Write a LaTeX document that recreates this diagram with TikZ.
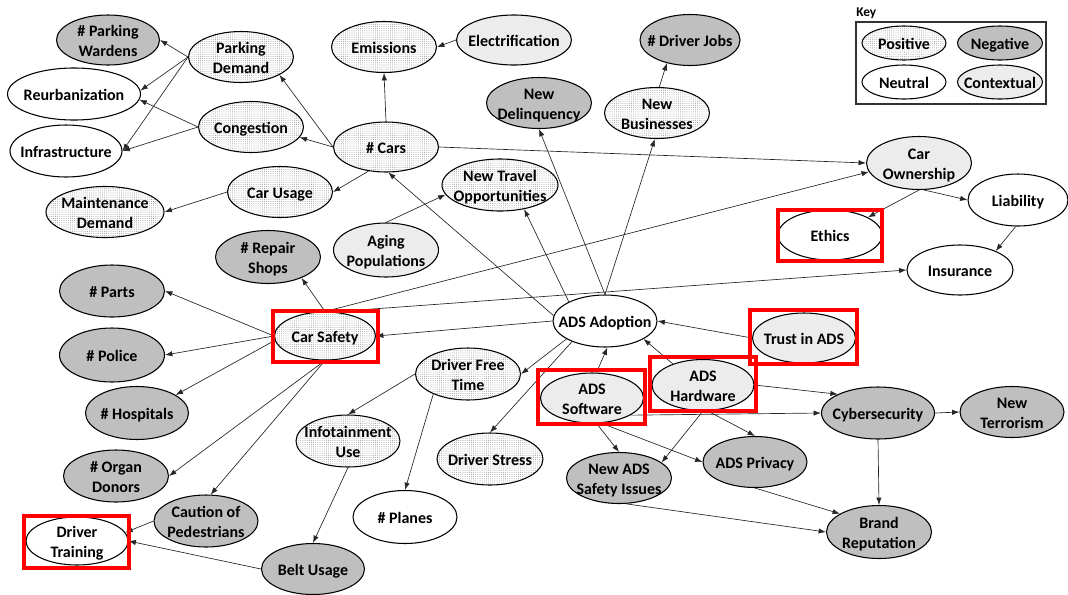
\documentclass[tikz,border=0pt]{standalone}
\usepackage{fontspec}
\setmainfont{Carlito}
\usetikzlibrary{shapes.geometric,arrows.meta,patterns}
\pgfdeclarepatternformonly{fdots}{\pgfqpoint{-0.5pt}{-0.5pt}}{\pgfqpoint{0.5pt}{0.5pt}}{\pgfqpoint{1.6pt}{1.6pt}}{\pgfpathcircle{\pgfqpoint{0pt}{0pt}}{0.34pt}\pgfusepath{fill}}
\newcommand\tx[1]{\makebox[0pt]{\raisebox{-1.9pt}[\height][\depth]{\begin{tabular}{@{}c@{}}#1\end{tabular}}}}
\tikzset{
  ell/.style 2 args={ellipse, draw=black, line width=0.8pt, inner xsep=0pt, inner ysep=-3pt,
    minimum width=#1*0.75pt, minimum height=#2*0.75pt,
    font=\fontsize{12}{15}\selectfont\bfseries},
  posv/.style={pattern=fdots, pattern color=gray!85},
  negv/.style={fill=gray!50},
  neuv/.style={fill=white},
  ctxv/.style={fill=gray!15},
  arr/.style={draw=black!85, line width=0.5pt, -{Latex[length=5.5pt,width=4pt]}},
  redbox/.style={draw=red, line width=3pt},
}
\begin{document}
\begin{tikzpicture}[x=0.75pt,y=-0.75pt]
\useasboundingbox (0,0) rectangle (1068,594);
% nodes
\node[ell={103}{50},negv] (pwarden) at (108,40) {\tx{\# Parking\\Wardens}};
\node[ell={105}{51},posv] (pdemand) at (241,57) {\tx{Parking\\Demand}};
\node[ell={133}{52},neuv] (reurb) at (74,94) {\tx{Reurbanization}};
\node[ell={105}{51},posv] (cong) at (251,127) {\tx{Congestion}};
\node[ell={112}{52},neuv] (infra) at (66,151) {\tx{Infrastructure}};
\node[ell={105}{51},posv] (carusage) at (280,192) {\tx{Car Usage}};
\node[ell={118}{51},posv] (maint) at (105,212) {\tx{Maintenance\\Demand}};
\node[ell={105}{51},posv] (emis) at (384,47) {\tx{Emissions}};
\node[ell={115}{50},ctxv] (elec) at (514,40) {\tx{Electrification}};
\node[ell={100}{51},negv] (djobs) at (690,40) {\tx{\# Driver Jobs}};
\node[ell={105}{51},negv] (delinq) at (539,103) {\tx{New\\Delinquency}};
\node[ell={105}{51},posv] (nbus) at (657,113) {\tx{New\\Businesses}};
\node[ell={105}{50},posv] (cars) at (386,147) {\tx{\# Cars}};
\node[ell={116}{52},posv] (nto) at (500,185) {\tx{New Travel\\Opportunities}};
\node[ell={105}{54},ctxv] (aging) at (386,250) {\tx{Aging\\Populations}};
\node[ell={105}{53},negv] (repair) at (268,257) {\tx{\# Repair\\Shops}};
\node[ell={105}{53},ctxv] (carown) at (919,163) {\tx{Car\\Ownership}};
\node[ell={100}{52},neuv] (liab) at (1018,200) {\tx{Liability}};
\node[ell={104}{50},neuv] (ethics) at (830,235) {\tx{Ethics}};
\node[ell={106}{50},neuv] (ins) at (960,270) {\tx{Insurance}};
\node[ell={105}{52},negv] (parts) at (112,291) {\tx{\# Parts}};
\node[ell={105}{54},negv] (police) at (112,355) {\tx{\# Police}};
\node[ell={103}{53},negv] (hosp) at (137,413) {\tx{\# Hospitals}};
\node[ell={105}{52},negv] (organ) at (116,476) {\tx{\# Organ\\Donors}};
\node[ell={104}{52},negv] (caution) at (206,521) {\tx{Caution of\\Pedestrians}};
\node[ell={102}{48},neuv] (dtrain) at (77,541) {\tx{Driver\\Training}};
\node[ell={103}{51},negv] (belt) at (313,569) {\tx{Belt Usage}};
\node[ell={101}{48},posv] (carsafe) at (325,336) {\tx{Car Safety}};
\node[ell={104}{52},posv] (info) at (348,441) {\tx{Infotainment\\Use}};
\node[ell={104}{53},neuv] (planes) at (405,517) {\tx{\# Planes}};
\node[ell={104}{52},neuv] (ado) at (605,321) {\tx{ADS Adoption}};
\node[ell={103}{50},ctxv] (trust) at (804,338) {\tx{Trust in ADS}};
\node[ell={105}{52},posv] (dft) at (468,374) {\tx{Driver Free\\Time}};
\node[ell={103}{50},ctxv] (sw) at (592,398) {\tx{ADS\\Software}};
\node[ell={102}{51},ctxv] (hw) at (703,385) {\tx{ADS\\Hardware}};
\node[ell={106}{52},posv] (dstress) at (490,459) {\tx{Driver Stress}};
\node[ell={105}{51},negv] (nsi) at (619,478) {\tx{New ADS\\Safety Issues}};
\node[ell={104}{51},negv] (priv) at (755,462) {\tx{ADS Privacy}};
\node[ell={113}{52},negv] (cyber) at (878,413) {\tx{Cybersecurity}};
\node[ell={104}{51},negv] (nterr) at (1012,412) {\tx{New\\Terrorism}};
\node[ell={105}{53},negv] (brand) at (879,532) {\tx{Brand\\Reputation}};
% key
\node[anchor=west, inner sep=0pt, font=\fontsize{10}{12}\selectfont\bfseries] (keylbl) at (856,13) {Key};
\node[draw=black!80, line width=1pt, minimum width=190*0.75pt, minimum height=82*0.75pt, inner sep=0pt] (keybox) at (951,63) {};
\node[ell={84}{34},posv] (kpos) at (904,43) {\tx{Positive}};
\node[ell={85}{34},negv] (kneg) at (1000,43) {\tx{Negative}};
\node[ell={84}{34},neuv] (kneu) at (904,82) {\tx{Neutral}};
\node[ell={85}{34},ctxv] (kctx) at (1000,82) {\tx{Contextual}};
% edges
\draw[arr] (pdemand.west) -- (pwarden.east);
\draw[arr] (pdemand.west) -- (reurb.3);
\draw[arr] (pdemand.west) -- (infra.east);
\draw[arr] (cong.west) -- (reurb.-5);
\draw[arr] (cong.west) -- (infra.east);
\draw[arr] (cars.west) -- (pdemand.-25);
\draw[arr] (cars.west) -- (cong.-12);
\draw[arr] (cars.-126) -- (carusage.east);
\draw[arr] (carusage.west) -- (maint.east);
\draw[arr] (cars.north) -- (emis.south);
\draw[arr] (elec.west) -- (emis.east);
\draw[arr] (cars.east) -- (carown.west);
\draw[arr] (carsafe.north) -- (carown.190);
\draw[arr] (carsafe.70) -- (ins.west);
\draw[arr] (carsafe.north) -- (repair.-32);
\draw[arr] (carsafe.west) -- (parts.east);
\draw[arr] (carsafe.west) -- (police.east);
\draw[arr] (carsafe.185) -- (hosp.25);
\draw[arr] (carsafe.south) -- (organ.east);
\draw[arr] (carsafe.south) -- (caution.80);
\draw[arr] (caution.west) -- (dtrain.10);
\draw[arr] (belt.west) -- (dtrain.east);
\draw[arr] (info.south) -- (belt.north);
\draw[arr] (dft.west) -- (info.north);
\draw[arr] (dft.-150) -- (planes.north);
\draw[arr] (ado.-155) -- (dft.east);
\draw[arr] (ado.-148) -- (dstress.north);
\draw[arr] (ado.west) -- (carsafe.east);
\draw[arr] (ado.174) -- (cars.-85);
\draw[arr] (ado.152) -- (nto.-45);
\draw[arr] (ado.north) -- (delinq.south);
\draw[arr] (ado.north) -- (nbus.-95);
\draw[arr] (nbus.85) -- (djobs.-135);
\draw[arr] (aging.north) -- (nto.190);
\draw[arr] (carown.south) -- (ethics.25);
\draw[arr] (carown.-80) -- (liab.west);
\draw[arr] (liab.-95) -- (ins.28);
\draw[arr] (trust.west) -- (ado.east);
\draw[arr] (sw.80) -- (ado.-85);
\draw[arr] (hw.145) -- (ado.-25);
\draw[arr] (sw.-24) -- (cyber.west);
\draw[arr] (hw.east) -- (cyber.155);
\draw[arr] (hw.-80) -- (priv.north);
\draw[arr] (hw.south) -- (nsi.20);
\draw[arr] (sw.-80) -- (nsi.north);
\draw[arr] (sw.-70) -- (priv.west);
\draw[arr] (cyber.east) -- (nterr.west);
\draw[arr] (cyber.south) -- (brand.north);
\draw[arr] (priv.south) -- (brand.155);
\draw[arr] (nsi.-75) -- (brand.west);
% red highlight boxes
\draw[redbox] (778,210) rectangle (882,261);
\draw[redbox] (24,516) rectangle (129,568);
\draw[redbox] (273,311) rectangle (378,362);
\draw[redbox] (750,310) rectangle (857,364);
\draw[redbox] (538,370) rectangle (645,424);
\draw[redbox] (650,357) rectangle (756,411);
\end{tikzpicture}
\end{document}
